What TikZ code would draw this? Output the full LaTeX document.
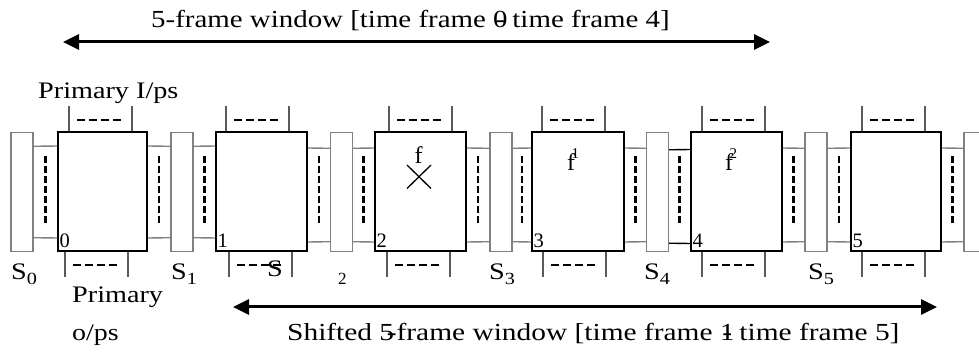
\documentclass[tikz,border=0pt]{standalone}
\usepackage{graphicx}
\usepackage{fontspec}
\setmainfont{Liberation Serif}
\usetikzlibrary{arrows.meta,calc}

\definecolor{edgegray}{HTML}{808080}
\definecolor{tickgray}{HTML}{5A5A5A}

% digit struck through by a hyphen
\newcommand\ovr[1]{\rlap{#1}\kern0.083em-\kern0.25em}
% horizontally widened text
\newcommand\sx[2]{\scalebox{#1}[1]{#2}}
% state-register label with lowered index
\newcommand\slab[1]{S\raisebox{-5pt}{\fontsize{17}{17}\selectfont #1}}
% small raised index after f
\newcommand\fsup[1]{\kern-3.5pt\raisebox{12.5pt}{\fontsize{15}{15}\selectfont #1}}

\begin{document}
\begin{tikzpicture}[x=1pt,y=-1pt,
  frame/.style={draw=black, line width=2pt, minimum height=119pt, inner sep=0pt},
  sreg/.style={draw=edgegray, line width=1.4pt, minimum width=22pt, minimum height=119pt, inner sep=0pt},
  link/.style={line width=1.4pt},
  vdash/.style={line width=2.4pt, dash pattern=on 6.5pt off 3.5pt},
  hdash/.style={line width=2.4pt, dash pattern=on 8pt off 4pt},
  tick/.style={draw=tickgray, line width=1.3pt},
  span/.style={line width=3pt, {Triangle[length=16pt,width=15pt]}-{Triangle[length=16pt,width=15pt]}},
  txt/.style={font=\fontsize{23.7}{28}\selectfont, inner sep=0pt},
  wtxt/.style={font=\fontsize{24.5}{28}\selectfont, inner sep=0pt},
  ftxt/.style={font=\fontsize{24}{28}\selectfont, inner sep=0pt},
  num/.style={font=\fontsize{20.5}{24}\selectfont, inner sep=0pt},
]
\useasboundingbox (0,0) rectangle (979,352);
\fill[white] (0,0) rectangle (979,352);

% time-frame blocks
\foreach \n/\cx/\w in {0/102.5/89, 1/261.5/91, 2/420.5/91, 3/578/92, 4/736.5/91, 5/896/90}
  \node[frame, minimum width=\w pt] (b\n) at (\cx,192) {};

% state registers
\foreach \n/\cx in {0/22, 1/182, 2/341.5, 3/501, 4/657.5, 5/816, 6/975}
  \node[sreg] (s\n) at (\cx,192) {};

% register-to-block links with their dashed buses
\foreach \lft/\rgt/\tp/\bt/\col in {s0/b0/14.5/14.5/edgegray, b0/s1/14.5/14.5/edgegray,
    s1/b1/14.5/14.5/edgegray, b1/s2/16.5/10.5/edgegray, s2/b2/16.5/10.5/edgegray,
    b2/s3/16.5/10.5/edgegray, s3/b3/16.5/10.5/edgegray, b3/s4/16.5/10.5/edgegray,
    s4/b4/18/9/black, b4/s5/16.5/10.5/edgegray, s5/b5/16.5/10.5/edgegray,
    b5/s6/16.5/10.5/edgegray} {
  \draw[link, draw=\col] ([yshift=-\tp pt]\lft.north east) -- ([yshift=-\tp pt]\rgt.north west);
  \draw[link, draw=\col] ([yshift=\bt pt]\lft.south east) -- ([yshift=\bt pt]\rgt.south west);
  \draw[vdash] ($(\lft.east)!0.5!(\rgt.west)$) ++(0,-35.5) -- ++(0,70);
}

% primary inputs (top) and outputs (bottom) of each block
\foreach \n/\tu/\td in {0/12/8, 1/11/14, 2/15/13, 3/11/12, 4/12/12, 5/12/12} {
  \draw[tick] (b\n.north west) ++(\tu,0) -- ++(0,-25.5);
  \draw[tick] (b\n.north west) ++(\tu+63,0) -- ++(0,-25.5);
  \draw[hdash] (b\n.north west) ++(\tu+8,-11.5) -- ++(44,0);
  \draw[tick] (b\n.south west) ++(\td,0) -- ++(0,24.5);
  \draw[tick] (b\n.south west) ++(\td+63,0) -- ++(0,24.5);
  \draw[hdash] (b\n.south west) ++(\td+8,12.5) -- ++(44,0);
}

% block indices
\foreach \n in {0,...,5}
  \node[num, anchor=base west] (n\n) at ([xshift=2.5pt,yshift=4.5pt]b\n.south west) {\n};

% fault and its propagated effects
\node[ftxt, anchor=base] (f0) at (418.5,163.3) {f};
\draw[line width=1.3pt] (407,165) -- (431,188.5) (407,188.5) -- (431,165);
\node[ftxt, anchor=base] (f1) at (573,170.7) {f\fsup{1}};
\node[ftxt, anchor=base] (f2) at (731,170.7) {f\fsup{2}};

% register labels
\foreach \n/\x in {0/11, 1/171, 3/489, 4/644, 5/808}
  \node[txt, anchor=base west] (sl\n) at (\x,280) {\sx{1.19}{\slab{\n}}};
\node[txt, anchor=base west] (sl2) at (267,277) {\sx{1.19}{S}};
\node[anchor=base west, inner sep=0pt, font=\fontsize{17}{17}\selectfont] (sl2i) at (338,285) {2};

% primary I/O labels
\node[txt, anchor=base west] (pin) at (38,99) {\sx{1.19}{Primary I/ps}};
\node[txt, anchor=base west] (pout) at (72,303) {\sx{1.19}{Primary}};
\node[txt, anchor=base west] (pout2) at (72,340) {\sx{1.18}{o/ps}};

% analysis windows
\coordinate (wa) at (63,42);
\coordinate (wb) at (770,42);
\draw[span] (wa) -- (wb);
\node[wtxt, anchor=base west] (wt) at (151,27.5)
  {\sx{1.18}{5-frame window [time frame \ovr{0} time frame 4]}};

\coordinate (sa) at (233,307);
\coordinate (sb) at (937,307);
\draw[span] (sa) -- (sb);
\node[wtxt, anchor=base west] (st) at (287,341)
  {\sx{1.2}{Shifted 5\kern-0.25em-frame window [time frame \ovr{1} time frame 5]}};
\end{tikzpicture}
\end{document}
